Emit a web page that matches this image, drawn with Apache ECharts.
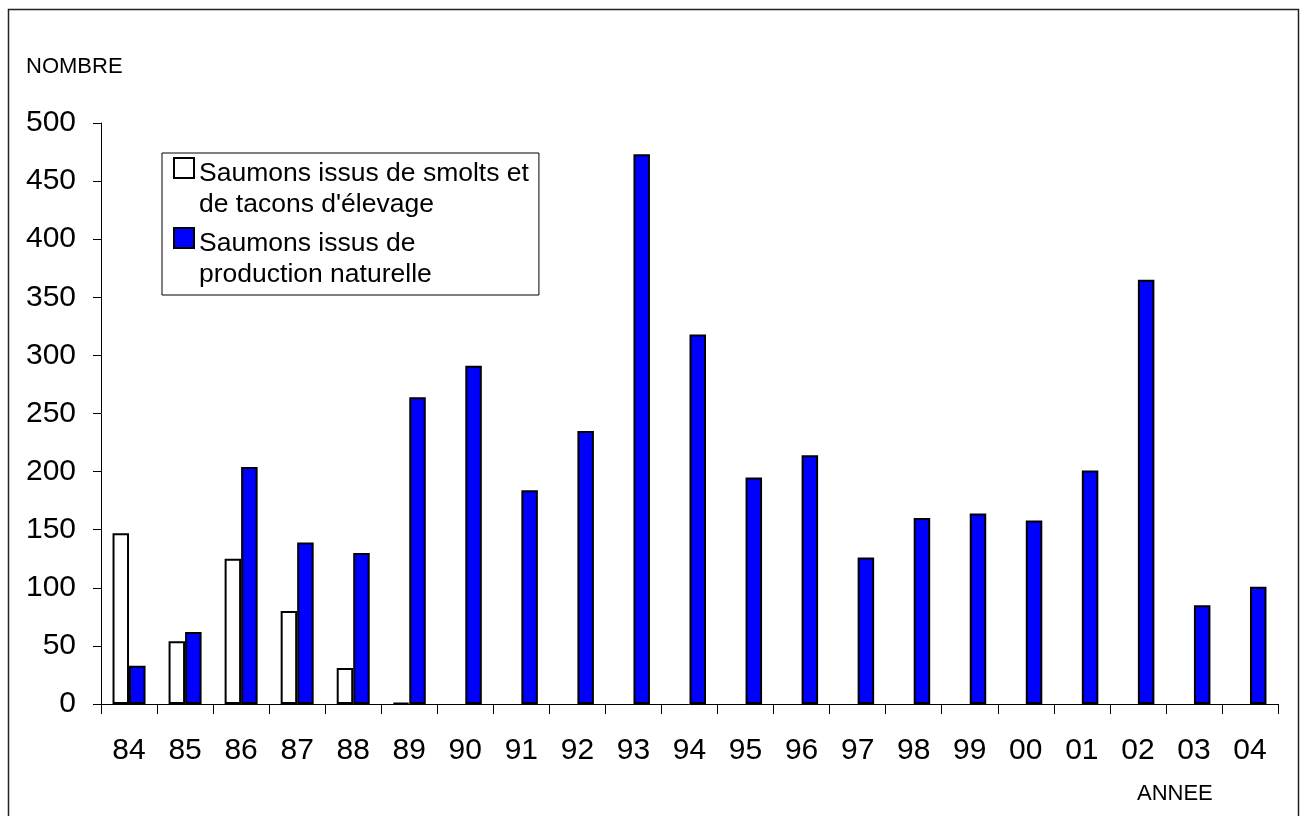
<!DOCTYPE html>
<html>
<head>
<meta charset="utf-8">
<script src="https://cdn.jsdelivr.net/npm/echarts@6/dist/echarts.min.js"></script>
<style>
  html, body { margin: 0; padding: 0; background: #fff; }
  #main { width: 1306px; height: 816px; }
</style>
</head>
<body>
<div id="main"></div>
<script>
// années (axe X)
const annees = ['84','85','86','87','88','89','90','91','92','93','94','95','96','97','98','99','00','01','02','03','04'];
// saumons issus de smolts et tacons d'élevage
const elevage = [147, 54, 125, 80, 31, 1, null, null, null, null, null, null, null, null, null, null, null, null, null, null, null];
// saumons issus de production naturelle
const naturelle = [33, 62, 204, 139, 130, 264, 291, 184, 235, 473, 318, 195, 214, 126, 160, 164, 158, 201, 365, 85, 101];

const nomElevage = "Saumons issus de smolts et\nde tacons d'élevage";
const nomNaturelle = 'Saumons issus de\nproduction naturelle';

const font = "'Liberation Sans', Arial, sans-serif";

// carré en haut de l'icône pour l'aligner sur la première ligne du texte
const iconeLegende = 'path://M0,0L20,0L20,20L0,20Z M0,62';

const chart = echarts.init(document.getElementById('main'));

const option = {
  backgroundColor: '#fff',
  animation: false,
  grid: { left: 101, right: 28, top: 123, bottom: 112 },
  legend: {
    orient: 'vertical',
    left: 162,
    top: 153,
    padding: [4, 10, 4, 11],
    borderColor: '#000',
    borderWidth: 1,
    itemGap: 6,
    itemWidth: 20,
    itemHeight: 62,
    icon: iconeLegende,
    textStyle: { fontFamily: font, fontSize: 26.5, lineHeight: 31, color: '#000' },
    data: [nomElevage, nomNaturelle]
  },
  xAxis: {
    type: 'category',
    data: annees,
    axisLine: { lineStyle: { color: '#000', width: 1 } },
    axisTick: { show: true, length: 10, lineStyle: { color: '#000' } },
    axisLabel: { fontFamily: font, fontSize: 30, color: '#000', margin: 32, interval: 0 }
  },
  yAxis: {
    type: 'value',
    min: 0,
    max: 500,
    interval: 50,
    axisLine: { show: true, lineStyle: { color: '#000', width: 1 } },
    axisTick: { show: true, length: 8, lineStyle: { color: '#000' } },
    splitLine: { show: false },
    axisLabel: { fontFamily: font, fontSize: 30, color: '#000', margin: 25 }
  },
  series: [
    {
      name: nomElevage,
      type: 'bar',
      data: elevage,
      barWidth: 16.5,
      barGap: '0%',
      itemStyle: { color: '#fff', borderColor: '#000', borderWidth: 2 }
    },
    {
      name: nomNaturelle,
      type: 'bar',
      data: naturelle,
      barWidth: 16.5,
      barGap: '0%',
      itemStyle: { color: '#0000ff', borderColor: '#000', borderWidth: 2 }
    }
  ],
  graphic: [
    {
      type: 'rect',
      silent: true,
      shape: { x: 8.5, y: 9.5, width: 1290, height: 830 },
      style: { fill: null, stroke: '#222', lineWidth: 1.5 }
    },
    {
      type: 'text',
      left: 26,
      top: 56,
      style: { text: 'NOMBRE', fontFamily: font, fontSize: 22, fill: '#000' }
    },
    {
      type: 'text',
      left: 1137,
      top: 783,
      style: { text: 'ANNEE', fontFamily: font, fontSize: 22, fill: '#000' }
    }
  ]
};

chart.setOption(option);
</script>
</body>
</html>
